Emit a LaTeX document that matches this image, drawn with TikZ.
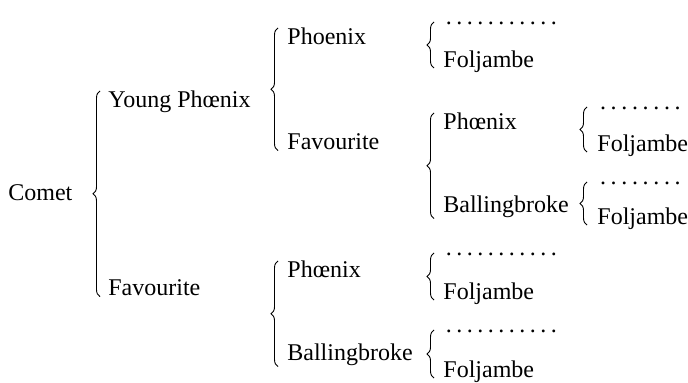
\documentclass[tikz,border=0pt]{standalone}
\usepackage{fontspec}
\setmainfont{Liberation Serif}
\usetikzlibrary{decorations.pathreplacing}
\newcommand\unknowndam[1][58pt]{\hbox to #1{\xleaders\hbox to 5pt{\hss.\hss}\hfill}}
\tikzset{
  horse/.style={anchor=base west,inner sep=0pt,font=\fontsize{12}{14}\selectfont},
  brc/.style={decorate,decoration={brace,amplitude=3.5pt},line width=0.45pt},
}

\begin{document}
\begin{tikzpicture}[x=0.5pt,y=-0.5pt]
    \useasboundingbox (0,0) rectangle (688,383);
    % sire and his parents
    \node[horse] (comet) at (8,201) {Comet};
    \node[horse] (yph) at (108,108) {Young Phœnix};
    \node[horse] (fav) at (108,296) {Favourite};
    % third column
    \node[horse] (phx) at (287,45) {Phoenix};
    \node[horse] (favA) at (287,150) {Favourite};
    \node[horse] (phxB) at (287,278) {Phœnix};
    \node[horse] (balB) at (287,361) {Ballingbroke};
    % fourth column
    \node[horse] (damA) at (443,25) {\unknowndam};
    \node[horse] (folA) at (443,68) {Foljambe};
    \node[horse] (phxC) at (443,130) {Phœnix};
    \node[horse] (balC) at (443,213) {Ballingbroke};
    \node[horse] (damB) at (443,256) {\unknowndam};
    \node[horse] (folB) at (443,300) {Foljambe};
    \node[horse] (damC) at (443,333) {\unknowndam};
    \node[horse] (folC) at (443,378) {Foljambe};
    % fifth column
    \node[horse] (damD) at (597,110) {\unknowndam[43pt]};
    \node[horse] (folD) at (597,152) {Foljambe};
    \node[horse] (damE) at (597,185) {\unknowndam[43pt]};
    \node[horse] (folE) at (597,225) {Foljambe};
    % braces
    \draw[brc] ([xshift=-4pt]fav.south west) -- ([xshift=-4pt]yph.north west);
    \draw[brc] ([xshift=-4.5pt]favA.south west) -- ([xshift=-4.5pt]phx.north west);
    \draw[brc] ([xshift=-4.5pt]balB.south west) -- ([xshift=-4.5pt]phxB.north west);
    \draw[brc] ([xshift=-4.5pt]folA.base west) -- ([xshift=-4.5pt,yshift=1.5pt]damA.base west);
    \draw[brc] ([xshift=-4.5pt]balC.south west) -- ([xshift=-4.5pt]phxC.north west);
    \draw[brc] ([xshift=-4.5pt]folB.base west) -- ([xshift=-4.5pt,yshift=1.5pt]damB.base west);
    \draw[brc] ([xshift=-4.5pt]folC.base west) -- ([xshift=-4.5pt,yshift=1.5pt]damC.base west);
    \draw[brc] ([xshift=-5pt]folD.base west) -- ([xshift=-5pt,yshift=1.5pt]damD.base west);
    \draw[brc] ([xshift=-5pt]folE.base west) -- ([xshift=-5pt,yshift=1.5pt]damE.base west);
\end{tikzpicture}
\end{document}
